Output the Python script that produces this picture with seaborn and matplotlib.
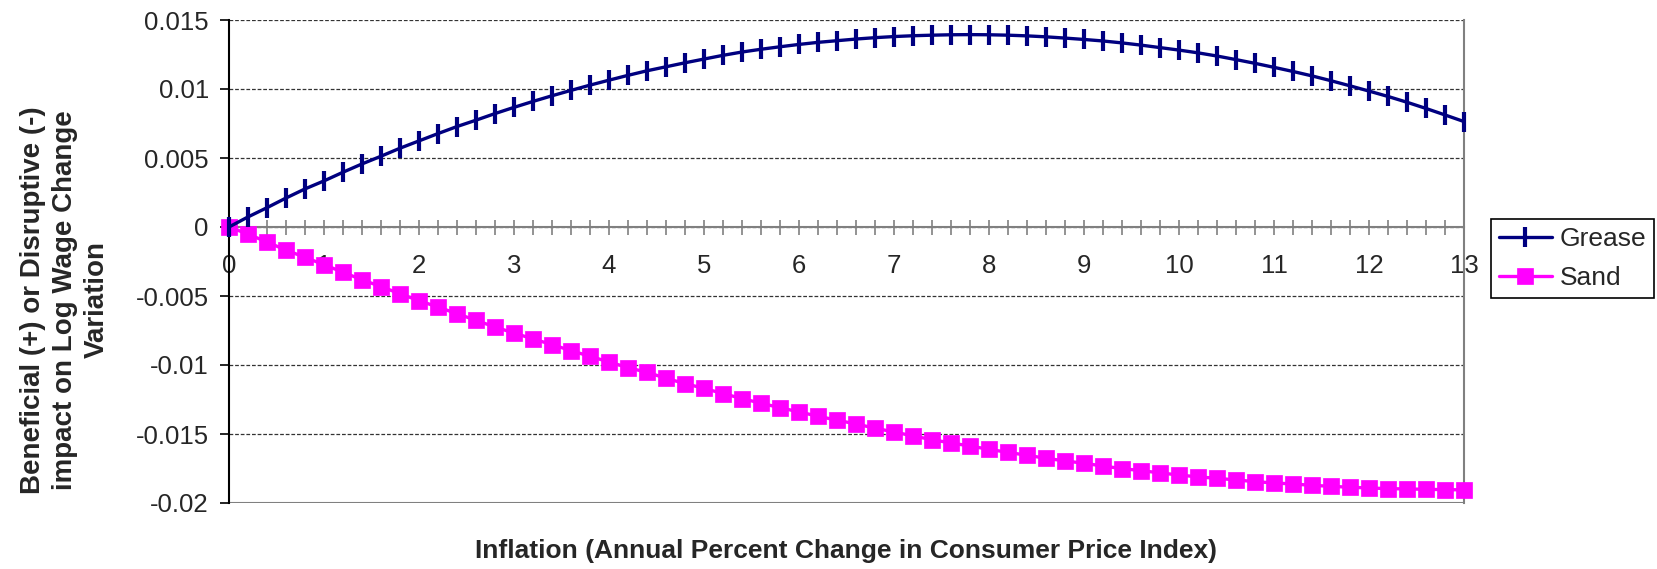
import matplotlib
matplotlib.use('Agg')
import matplotlib.pyplot as plt
from matplotlib.ticker import MultipleLocator, FixedLocator
import seaborn as sns

# annual percent change in CPI (step 0.2)
inflation = [0.0, 0.2, 0.4, 0.6, 0.8, 1.0, 1.2, 1.4, 1.6, 1.8,
             2.0, 2.2, 2.4, 2.6, 2.8, 3.0, 3.2, 3.4, 3.6, 3.8,
             4.0, 4.2, 4.4, 4.6, 4.8, 5.0, 5.2, 5.4, 5.6, 5.8,
             6.0, 6.2, 6.4, 6.6, 6.8, 7.0, 7.2, 7.4, 7.6, 7.8,
             8.0, 8.2, 8.4, 8.6, 8.8, 9.0, 9.2, 9.4, 9.6, 9.8,
             10.0, 10.2, 10.4, 10.6, 10.8, 11.0, 11.2, 11.4, 11.6, 11.8,
             12.0, 12.2, 12.4, 12.6, 12.8, 13.0]

grease = [0.0, 0.00073, 0.00140, 0.00210, 0.00276, 0.00334, 0.00397, 0.00457, 0.00513, 0.00571,
          0.00624, 0.00677, 0.00728, 0.00774, 0.00822, 0.00867, 0.00910, 0.00951, 0.00990, 0.01028,
          0.01064, 0.01099, 0.01132, 0.01161, 0.01190, 0.01217, 0.01244, 0.01268, 0.01288, 0.01306,
          0.01323, 0.01338, 0.01350, 0.01362, 0.01372, 0.01380, 0.01386, 0.01390, 0.01393, 0.01394,
          0.01393, 0.01390, 0.01385, 0.01378, 0.01369, 0.01359, 0.01348, 0.01334, 0.01318, 0.01300,
          0.01282, 0.01262, 0.01239, 0.01213, 0.01186, 0.01157, 0.01127, 0.01095, 0.01060, 0.01023,
          0.00985, 0.00946, 0.00904, 0.00859, 0.00812, 0.00764]

sand = [0.0, -0.00051, -0.00109, -0.00167, -0.00220, -0.00273, -0.00328, -0.00382, -0.00432, -0.00483,
        -0.00534, -0.00580, -0.00628, -0.00676, -0.00725, -0.00768, -0.00811, -0.00852, -0.00896, -0.00937,
        -0.00978, -0.01019, -0.01053, -0.01096, -0.01135, -0.01169, -0.01207, -0.01243, -0.01277, -0.01309,
        -0.01340, -0.01371, -0.01400, -0.01427, -0.01458, -0.01485, -0.01514, -0.01541, -0.01565, -0.01587,
        -0.01611, -0.01633, -0.01654, -0.01676, -0.01695, -0.01712, -0.01732, -0.01751, -0.01765, -0.01782,
        -0.01797, -0.01811, -0.01821, -0.01833, -0.01845, -0.01855, -0.01862, -0.01872, -0.01879, -0.01886,
        -0.01891, -0.01896, -0.01898, -0.01901, -0.01903, -0.01905]

x_ticks = [0, 1, 2, 3, 4, 5, 6, 7, 8, 9, 10, 11, 12, 13]
y_ticks = [-0.02, -0.015, -0.01, -0.005, 0, 0.005, 0.01, 0.015]
y_labels = ['-0.02', '-0.015', '-0.01', '-0.005', '0', '0.005', '0.01', '0.015']

sns.set_style('white')
plt.rcParams['font.family'] = ['Liberation Sans', 'DejaVu Sans']

W, H = 1657, 569
fig = plt.figure(figsize=(W / 100, H / 100), dpi=100)
ax = fig.add_axes([229 / W, 1 - 503 / H, (1464 - 229) / W, (503 - 20) / H])

gray = '#808080'
navy = '#000080'
magenta = '#FF00FF'
ax.set_xlim(0, 13)
ax.set_ylim(-0.02, 0.015)

# dashed horizontal gridlines
for yv in y_ticks:
    ax.axhline(yv, color='#333333', lw=0.9, ls=(0, (3, 1.5)), zorder=0)

sns.lineplot(x=inflation, y=grease, ax=ax, color=navy, lw=2.4,
             marker='|', markersize=14, markeredgewidth=3, markeredgecolor=navy,
             label='Grease', sort=False, errorbar=None, clip_on=False, zorder=4)
sns.lineplot(x=inflation, y=sand, ax=ax, color=magenta, lw=2.4,
             marker='s', markersize=11.5, markeredgewidth=0.5, markeredgecolor=magenta,
             label='Sand', sort=False, errorbar=None, clip_on=False, zorder=3)
if ax.get_legend() is not None:
    ax.get_legend().remove()

# spines: y axis black, x axis crossing at zero, plot-area border gray
ax.spines['left'].set_color('black')
ax.spines['left'].set_linewidth(1.5)
ax.spines['bottom'].set_position(('data', 0))
ax.spines['bottom'].set_color(gray)
ax.spines['bottom'].set_linewidth(1.5)
ax.spines['right'].set_color(gray)
ax.spines['right'].set_linewidth(1.5)
ax.spines['top'].set_visible(False)
ax.axhline(-0.02, color=gray, lw=1.5, zorder=1)

ax.xaxis.set_major_locator(FixedLocator(x_ticks))
ax.xaxis.set_minor_locator(MultipleLocator(0.2))
ax.set_xticklabels([str(v) for v in x_ticks])
ax.tick_params(axis='x', which='both', direction='inout', length=10.8, width=1.2,
               color=gray, bottom=True, labelsize=18.5, pad=14)
ax.set_yticks(y_ticks)
ax.set_yticklabels(y_labels)
ax.tick_params(axis='y', which='major', direction='out', length=6.5, width=1.2,
               color='black', left=True, labelsize=18.5, pad=8)

fig.text(846 / W, 1 - 551 / H,
         'Inflation (Annual Percent Change in Consumer Price Index)',
         ha='center', va='center', fontsize=19, fontweight='bold')
fig.text(65 / W, 1 - 300 / H,
         'Beneficial (+) or Disruptive (-)\nimpact on Log Wage Change\nVariation',
         ha='center', va='center', rotation=90, fontsize=20, fontweight='bold',
         multialignment='center', linespacing=1.3)

handles, labels = ax.get_legend_handles_labels()
leg = fig.legend(handles, labels, loc='upper left',
                 bbox_to_anchor=(1491 / W, 1 - 219 / H), fontsize=19,
                 frameon=True, fancybox=False, framealpha=1, edgecolor='black',
                 handlelength=2.0, handletextpad=0.3, borderpad=0.3,
                 labelspacing=0.58, borderaxespad=0)
leg.get_frame().set_linewidth(1.2)

fig.savefig('out.png', dpi=100, facecolor='white')
